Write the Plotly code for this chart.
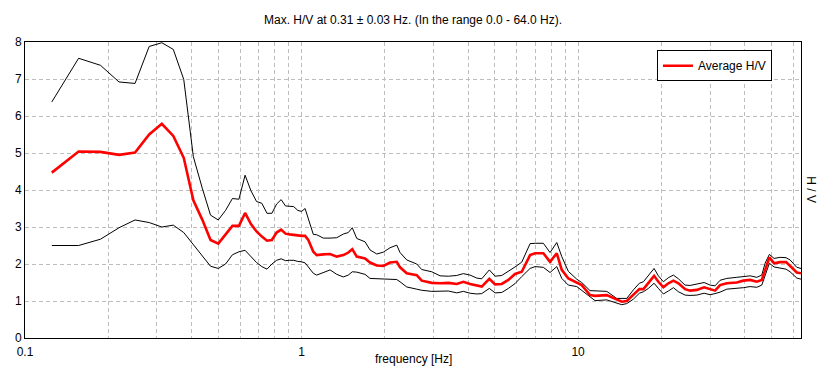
import plotly.graph_objects as go

# ---- data ----
freq_low = [0.125, 0.15625, 0.1875, 0.21875, 0.25, 0.28125, 0.3125, 0.34375, 0.375,
            0.40625, 0.4375, 0.46875, 0.5, 0.53125, 0.5625, 0.59375, 0.625, 0.65625,
            0.6875, 0.71875, 0.75, 0.78125, 0.8125, 0.84375, 0.875, 0.90625, 0.9375,
            0.96875, 1.0]
freq_high = [1.03, 1.058, 1.103, 1.135, 1.199, 1.268, 1.341, 1.416, 1.476, 1.526,
             1.584, 1.697, 1.769, 1.871, 1.976, 2.09, 2.21, 2.271, 2.401, 2.61,
             2.721, 2.958, 3.169, 3.396, 3.642, 3.847, 4.068, 4.301, 4.484, 4.777,
             5.01, 5.297, 5.596, 5.917, 6.257, 6.706, 6.991, 7.49, 7.919, 8.375,
             8.731, 9.224, 9.892, 10.31, 11.05, 11.52, 12.70, 13.80, 14.39, 15.00,
             15.85, 16.66, 17.23, 17.96, 18.83, 19.52, 20.35, 21.21, 22.12, 23.06,
             24.38, 25.42, 26.88, 28.56, 30.02, 31.30, 32.63, 34.50, 37.50, 39.61,
             41.89, 44.29, 46.17, 47.46, 49.19, 51.15, 53.77, 56.53, 58.44, 61.80,
             64.0]

avg_low = [4.47, 5.04, 5.03, 4.95, 5.01, 5.50, 5.79, 5.46, 4.87, 3.72, 3.20, 2.65,
           2.55, 2.80, 3.03, 3.03, 3.38, 3.08, 2.88, 2.74, 2.63, 2.65, 2.85, 2.93,
           2.82, 2.80, 2.78, 2.77, 2.76]
avg_high = [2.76, 2.65, 2.33, 2.24, 2.26, 2.27, 2.20, 2.24, 2.31, 2.40,
            2.20, 2.15, 2.04, 1.96, 1.95, 2.04, 2.06, 1.91, 1.75, 1.70,
            1.55, 1.49, 1.48, 1.49, 1.46, 1.52, 1.46, 1.41, 1.39, 1.60,
            1.45, 1.46, 1.57, 1.73, 1.79, 2.24, 2.29, 2.29, 2.06, 2.29,
            1.84, 1.61, 1.49, 1.43, 1.16, 1.14, 1.16, 1.03, 0.98, 1.00,
            1.16, 1.32, 1.32, 1.48, 1.68, 1.52, 1.37, 1.48, 1.55, 1.48,
            1.32, 1.28, 1.30, 1.37, 1.32, 1.28, 1.43, 1.48, 1.50, 1.55,
            1.57, 1.52, 1.57, 1.86, 2.18, 2.02, 2.05, 2.05, 1.95, 1.77,
            1.75]

upper_low = [6.38, 7.56, 7.37, 6.92, 6.88, 7.88, 7.98, 7.80, 6.99, 4.90, 4.05, 3.32,
             3.19, 3.45, 3.77, 3.75, 4.40, 3.98, 3.69, 3.64, 3.37, 3.37, 3.62, 3.74,
             3.57, 3.55, 3.55, 3.45, 3.42]
upper_high = [3.50, 3.20, 2.80, 2.79, 2.70, 2.70, 2.71, 2.81, 2.85, 2.98,
              2.69, 2.60, 2.38, 2.27, 2.32, 2.44, 2.51, 2.31, 2.11, 2.00,
              1.85, 1.79, 1.68, 1.67, 1.69, 1.74, 1.70, 1.62, 1.60, 1.84,
              1.67, 1.69, 1.80, 1.92, 2.05, 2.55, 2.56, 2.56, 2.31, 2.58,
              2.20, 1.80, 1.59, 1.50, 1.28, 1.28, 1.26, 1.07, 1.07, 1.07,
              1.30, 1.48, 1.52, 1.70, 1.88, 1.68, 1.52, 1.63, 1.70, 1.60,
              1.43, 1.42, 1.46, 1.50, 1.43, 1.41, 1.56, 1.61, 1.64, 1.66,
              1.68, 1.64, 1.70, 2.02, 2.26, 2.15, 2.18, 2.17, 2.11, 1.91,
              1.88]

lower_low = [2.50, 2.50, 2.67, 2.98, 3.19, 3.12, 3.00, 3.05, 2.85, 2.52, 2.24, 1.94,
             1.88, 2.00, 2.25, 2.33, 2.37, 2.21, 2.04, 1.93, 1.86, 2.00, 2.10, 2.14,
             2.09, 2.10, 2.10, 2.07, 2.06]
lower_high = [2.03, 1.93, 1.75, 1.70, 1.77, 1.84, 1.72, 1.65, 1.70, 1.79,
              1.78, 1.72, 1.61, 1.60, 1.59, 1.60, 1.58, 1.52, 1.38, 1.32,
              1.29, 1.26, 1.26, 1.27, 1.22, 1.26, 1.21, 1.19, 1.20, 1.34,
              1.22, 1.23, 1.34, 1.47, 1.66, 1.88, 1.93, 1.91, 1.77, 1.93,
              1.61, 1.43, 1.39, 1.28, 1.10, 1.01, 1.03, 0.94, 0.90, 0.93,
              1.05, 1.21, 1.25, 1.34, 1.48, 1.34, 1.19, 1.27, 1.36, 1.25,
              1.16, 1.15, 1.16, 1.21, 1.17, 1.20, 1.24, 1.32, 1.34, 1.36,
              1.39, 1.37, 1.43, 1.70, 2.02, 1.92, 1.89, 1.86, 1.79, 1.62,
              1.59]

freq = freq_low + freq_high
avg = avg_low + avg_high
upper = upper_low + upper_high
lower = lower_low + lower_high

x_major = [0.1, 1, 10]
x_major_text = ["0.1", "1", "10"]
x_minor = [0.2, 0.3, 0.4, 0.5, 0.6, 0.7, 0.8, 0.9,
           2, 3, 4, 5, 6, 7, 8, 9, 20, 30, 40, 50, 60]
y_ticks = [0, 1, 2, 3, 4, 5, 6, 7, 8]

title_text = "Max. H/V at 0.31 \u00b1 0.03 Hz. (In the range 0.0 - 64.0 Hz)."

FONT = "Arial, Liberation Sans, sans-serif"
GRID = "#bdbdbd"

fig = go.Figure()
fig.add_trace(go.Scatter(x=freq, y=upper, mode="lines", line=dict(color="black", width=1),
                         showlegend=False, hoverinfo="skip"))
fig.add_trace(go.Scatter(x=freq, y=lower, mode="lines", line=dict(color="black", width=1),
                         showlegend=False, hoverinfo="skip"))
fig.add_trace(go.Scatter(x=freq, y=avg, mode="lines", line=dict(color="#ff0000", width=2.6),
                         name="Average H/V"))

fig.update_layout(
    width=826, height=381,
    margin=dict(l=25, r=25, t=42, b=43),
    paper_bgcolor="white", plot_bgcolor="white",
    font=dict(family=FONT, size=12, color="black"),
    showlegend=True,
    legend=dict(x=0.8144, y=0.972, xanchor="left", yanchor="top",
                bgcolor="white", bordercolor="black", borderwidth=1,
                font=dict(size=12), itemwidth=30, tracegroupgap=0,
                entrywidth=97, entrywidthmode="pixels"),
    xaxis=dict(type="log", range=[-1, 1.80618], tickvals=x_major, ticktext=x_major_text,
               showgrid=True, gridcolor=GRID, griddash="4px,3px", gridwidth=1,
               minor=dict(tickvals=x_minor, showgrid=True, gridcolor=GRID,
                          griddash="4px,3px", gridwidth=1, ticks=""),
               showline=True, mirror=True, linecolor="black", linewidth=1,
               ticks="", zeroline=False, tickfont=dict(size=12), ticklabelstandoff=3),
    yaxis=dict(range=[0, 8], tickvals=y_ticks, showgrid=True, gridcolor=GRID,
               griddash="4px,3px", gridwidth=1,
               showline=True, mirror=True, linecolor="black", linewidth=1,
               ticks="", zeroline=False, tickfont=dict(size=12)),
    annotations=[
        dict(text=title_text, xref="paper", yref="paper", x=0.5, y=1.074,
             xanchor="center", yanchor="middle", showarrow=False, font=dict(size=12)),
        dict(text="frequency [Hz]", xref="paper", yref="paper", x=0.5, y=-0.07,
             xanchor="center", yanchor="middle", showarrow=False, font=dict(size=12)),
        dict(text="H / V", xref="paper", yref="paper", x=1.0125, y=0.5,
             xanchor="center", yanchor="middle", textangle=90, showarrow=False,
             font=dict(size=12)),
    ],
)

fig.write_html("out.html", config={"displayModeBar": False},
               post_script="document.body.style.margin='0';document.body.style.padding='0';")
